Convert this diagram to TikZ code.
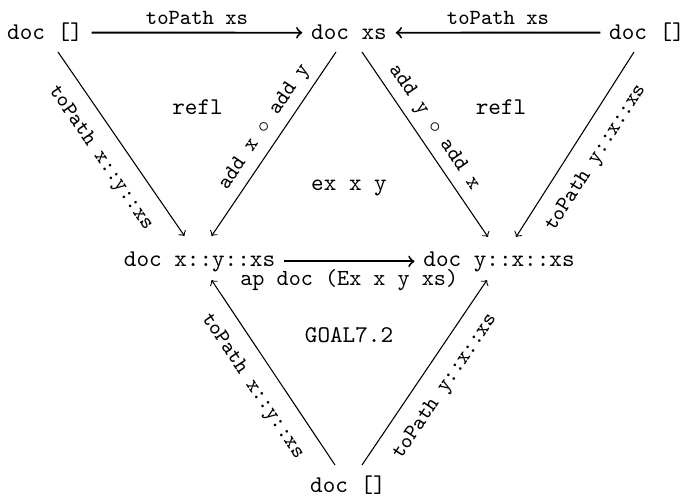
\documentclass[tikz,border=0pt]{standalone}
\usetikzlibrary{calc}
\begin{document}
\begin{tikzpicture}[x=0.4167pt,y=-0.4167pt,
  obj/.style={anchor=base,inner sep=0pt,font=\ttfamily\fontsize{10}{12}\selectfont},
  txt/.style={anchor=base,inner sep=0pt,font=\ttfamily\fontsize{10}{12}\selectfont},
  lbl/.style={font=\ttfamily\fontsize{9}{11}\selectfont},
  thin arrow/.style={->,line width=0.45pt},
  thick arrow/.style={->,line width=0.8pt,shorten <=3.5pt,shorten >=3.5pt},
  lab below/.style={lbl,sloped,below,inner sep=6.5pt},
  lab above/.style={lbl,sloped,above,inner sep=3pt}]
\useasboundingbox (0,0) rectangle (685,498);
% objects
\node[obj] (tl) at (45,40) {doc []};
\node[obj] (tm) at (349,40) {doc xs};
\node[obj] (tr) at (647,40) {doc []};
\node[obj] (ml) at (199.5,266) {doc x::y::xs};
\node[obj] (mr) at (499,266) {doc y::x::xs};
\node[obj] (bt) at (348,492) {doc []};
% cell texts
\node[txt] (refl1) at (197.5,115) {refl};
\node[txt] (refl2) at (501,115) {refl};
\node[txt] (exxy) at (349,190) {ex x y};
\node[txt] (goal) at (349,342) {GOAL7.2};
% horizontal arrows
\draw[thick arrow] (tl) -- node[lbl,above,inner sep=3pt] (l1) {toPath xs} (tm);
\draw[thick arrow] (tr) -- node[lbl,above,inner sep=3pt] (l2) {toPath xs} (tm);
\draw[thick arrow] (ml) -- node[font=\ttfamily\fontsize{9.6}{11}\selectfont,below,inner sep=3pt] (l3) {ap doc (Ex x y xs)} (mr);
% diagonal arrows
\draw[thin arrow] ($(tl.base)+(13,12)$) -- node[lab below,pos=0.5] (d1) {toPath x::y::xs} ($(ml.base)+(-15,-30)$);
\draw[thin arrow] ($(tm.base)+(-13,12)$) -- node[lab above,pos=0.46] (d2) {add x $\circ$ add y} ($(ml.base)+(12,-30)$);
\draw[thin arrow] ($(tm.base)+(13,12)$) -- node[lab above,pos=0.46] (d3) {add y $\circ$ add x} ($(mr.base)+(-11,-29)$);
\draw[thin arrow] ($(tr.base)+(-13,12)$) -- node[lab below,pos=0.5] (d4) {toPath y::x::xs} ($(mr.base)+(17,-29)$);
\draw[thin arrow] ($(bt.base)+(-13,-27)$) -- node[lab below,pos=0.5] (d5) {toPath x::y::xs} ($(ml.base)+(12,14)$);
\draw[thin arrow] ($(bt.base)+(14,-27)$) -- node[lab below,pos=0.5] (d6) {toPath y::x::xs} ($(mr.base)+(-12,14)$);
\end{tikzpicture}
\end{document}
